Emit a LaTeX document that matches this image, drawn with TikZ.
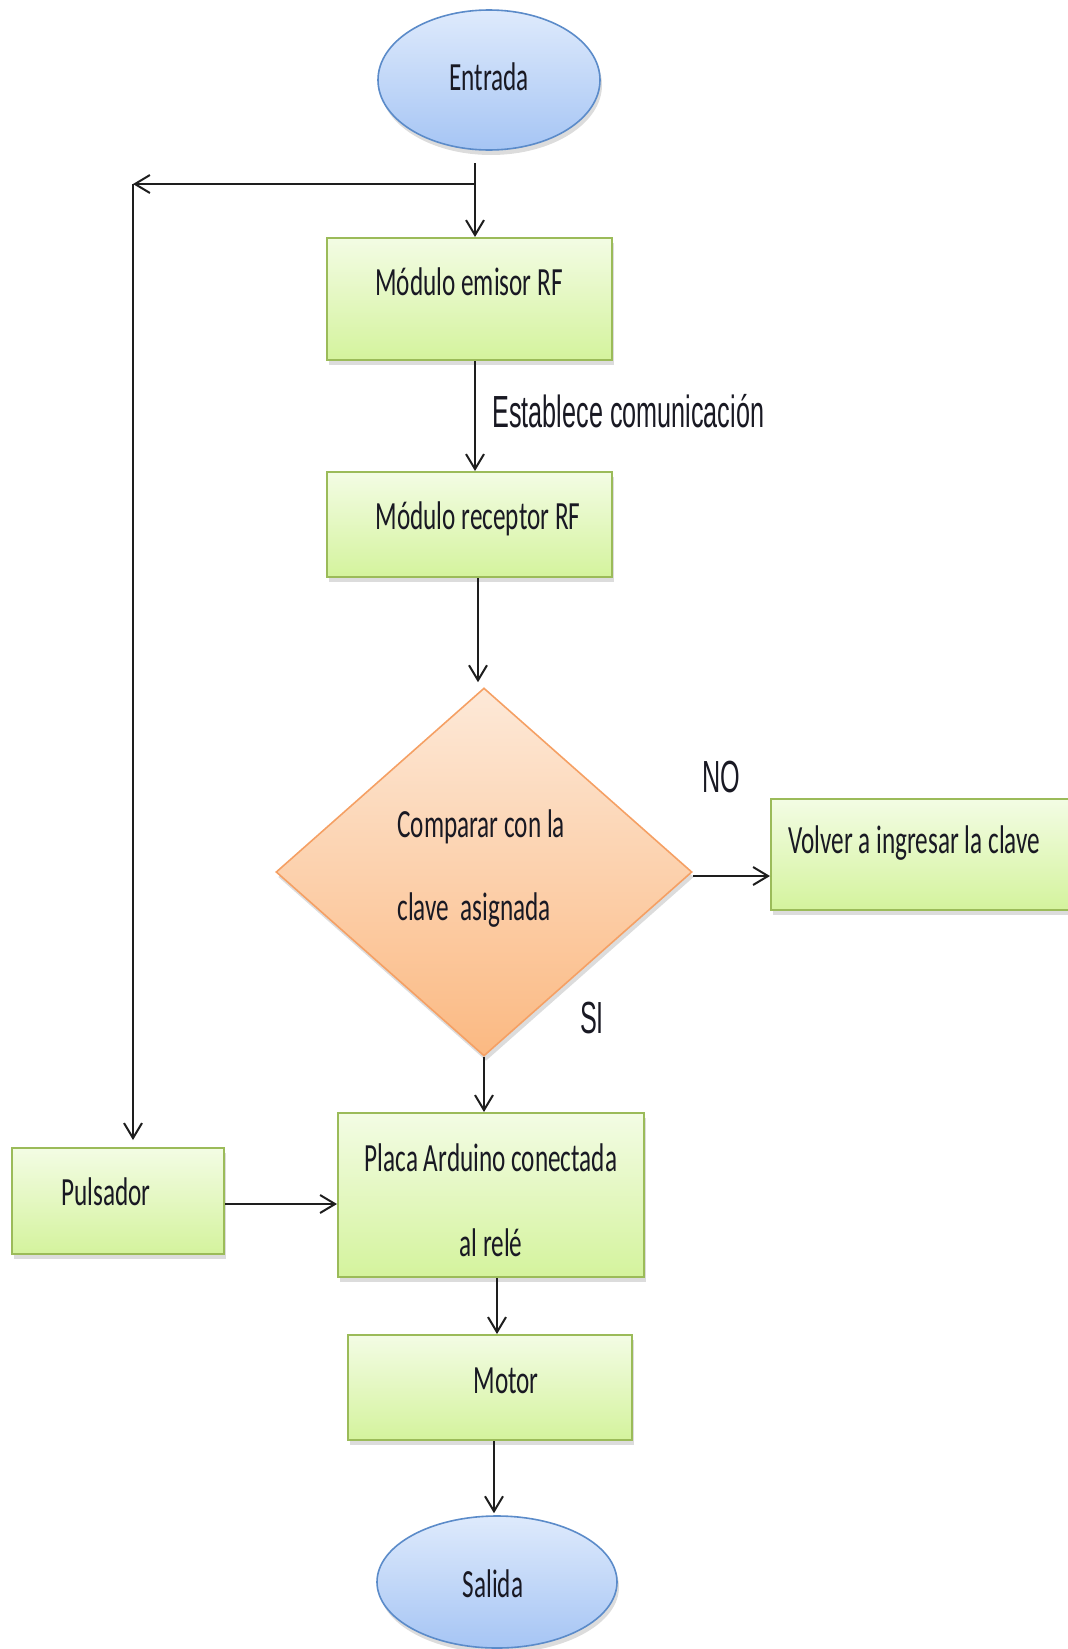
\documentclass[tikz,border=0pt]{standalone}
\usepackage{fontspec}
\setmainfont{Carlito}
\newfontfamily\boxfont[FakeStretch=0.63]{Carlito}
\newfontfamily\lblfont[FakeStretch=0.56]{Liberation Sans}
\usetikzlibrary{shapes.geometric,arrows.meta,shadows}
\definecolor{gborder}{RGB}{155,187,89}
\definecolor{gtop}{RGB}{243,252,228}
\definecolor{gbot}{RGB}{212,243,157}
\definecolor{bborder}{RGB}{91,139,201}
\definecolor{btop}{RGB}{222,234,252}
\definecolor{bbot}{RGB}{166,197,244}
\definecolor{oborder}{RGB}{245,160,100}
\definecolor{otop}{RGB}{253,233,216}
\definecolor{obot}{RGB}{251,185,130}
\definecolor{txt}{RGB}{25,25,35}
\definecolor{lin}{RGB}{30,30,30}
\tikzset{
  shd/.style={drop shadow={opacity=0.28, shadow xshift=1pt, shadow yshift=-2.5pt}},
  gbox/.style={rectangle, draw=gborder, line width=1pt, top color=gtop, bottom color=gbot, inner sep=0pt, shd},
  oval/.style={ellipse, draw=bborder, line width=0.8pt, top color=btop, bottom color=bbot, inner sep=0pt, shd},
  decision/.style={diamond, draw=oborder, line width=0.8pt, top color=otop, bottom color=obot, inner sep=0pt, shd},
  btxt/.style={text=txt, inner sep=0pt, font=\boxfont\fontsize{20}{24}\selectfont},
  ltxt/.style={text=txt, inner sep=0pt, font=\lblfont\fontsize{22.5}{27}\selectfont},
  arr/.style={draw=lin, line width=1pt, -{Straight Barb[length=7.5pt,width=9pt,line width=1pt]}},
  ln/.style={draw=lin, line width=1pt}
}
\begin{document}
\begin{tikzpicture}[x=0.5pt,y=-0.5pt]
\path[use as bounding box] (0,0) rectangle (1068,1649);
\clip (0,0) rectangle (1068,1649);
% shapes
\node[oval, minimum width=111pt, minimum height=70pt] (ent) at (489,80) {};
\node[gbox, minimum width=142.5pt, minimum height=61pt] (emi) at (469.5,299) {};
\node[gbox, minimum width=142.5pt, minimum height=52.5pt] (rec) at (469.5,524.5) {};
\node[decision, minimum width=208pt, minimum height=184pt] (dia) at (484,872) {};
\node[gbox, minimum width=159pt, minimum height=55.5pt] (vol) at (930,854.5) {};
\node[gbox, minimum width=153pt, minimum height=82pt] (pla) at (491,1195) {};
\node[gbox, minimum width=106pt, minimum height=53pt] (pul) at (118,1201) {};
\node[gbox, minimum width=142pt, minimum height=52.5pt] (mot) at (490,1387.5) {};
\node[oval, minimum width=120pt, minimum height=66pt] (sal) at (497,1582) {};
% texts
\node[btxt, anchor=base] (tent) at (489,90) {Entrada};
\node[btxt, anchor=base] (temi) at (469,295) {Módulo emisor RF};
\node[btxt, anchor=base] (trec) at (478,529) {Módulo receptor RF};
\node[ltxt, anchor=base west] (test) at (492,427) {Establece comunicación};
\node[btxt, anchor=base west] (tdia1) at (397,837) {Comparar con la};
\node[btxt, anchor=base west] (tdia2) at (397,920) {clave\ \ asignada};
\node[ltxt, anchor=base] (tno) at (721,792) {NO};
\node[ltxt, anchor=base] (tsi) at (592,1033) {SI};
\node[btxt, anchor=base west] (tvol) at (788,853) {Volver a ingresar la clave};
\node[btxt, anchor=base] (tpla1) at (491,1171) {Placa Arduino conectada};
\node[btxt, anchor=base] (tpla2) at (491,1256) {al relé};
\node[btxt, anchor=base] (tpul) at (106,1205) {Pulsador};
\node[btxt, anchor=base] (tmot) at (506,1393) {Motor};
\node[btxt, anchor=base] (tsal) at (493,1597) {Salida};
% guide coordinates
\coordinate (j0) at (475,163);
\coordinate (j1) at (475,184);
\coordinate (j2) at (133,184);
\coordinate (g3) at (478,0);
\coordinate (g5) at (497,0);
\coordinate (g6) at (494,0);
\coordinate (de) at ([yshift=-2pt]dia.east);
\coordinate (pe) at ([yshift=-1.5pt]pul.east);
% connectors
\draw[arr] (j0) -- (j0 |- emi.north);
\draw[arr] (j1) -- (j2);
\draw[arr, shorten >=3.5pt] (j2) -- (j2 |- pul.north);
\draw[arr] (emi.south -| j0) -- (rec.north -| j0);
\draw[arr, shorten >=2.5pt] (rec.south -| g3) -- (dia.north -| g3);
\draw[arr] (de) -- (vol.west |- de);
\draw[arr] (dia.south) -- (dia.south |- pla.north);
\draw[arr] (pe) -- (pe -| pla.west);
\draw[arr] (pla.south -| g5) -- (mot.north -| g5);
\draw[arr, shorten >=1pt] (mot.south -| g6) -- (sal.north -| g6);
\end{tikzpicture}
\end{document}
